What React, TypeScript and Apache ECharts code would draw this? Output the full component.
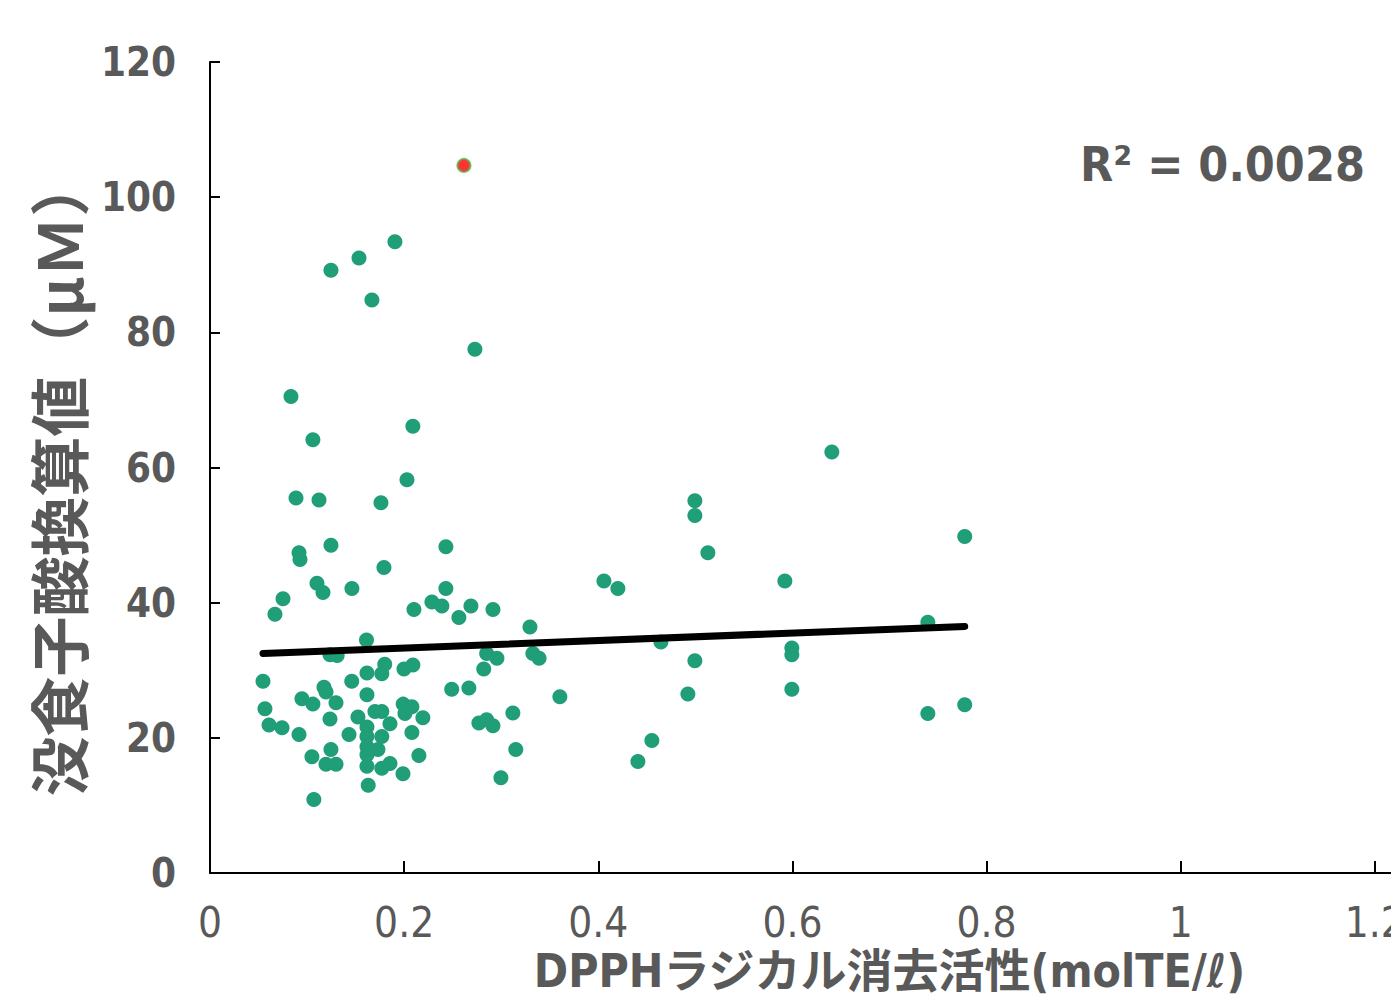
import React, { useEffect, useRef } from "react";
import * as echarts from "echarts";

const xTickLabels = ["0", "0.2", "0.4", "0.6", "0.8", "1", "1.2"];
const yTickLabels = ["0", "20", "40", "60", "80", "100", "120"];

const xTitle = "DPPHラジカル消去活性(molTE/ℓ)";
const yTitle = "没食子酸換算値（μＭ）";
const r2Label = "R² = 0.0028";

// scatter points [DPPH, gallic acid equivalent]
const points: [number, number][] = [
  [0.1905, 93.4], [0.1535, 91.0], [0.1246, 89.2], [0.1668, 84.8], [0.2729, 77.5],
  [0.0834, 70.5], [0.209, 66.1], [0.106, 64.1], [0.6406, 62.3], [0.2029, 58.2],
  [0.0886, 55.5], [0.1123, 55.2], [0.1761, 54.8], [0.4995, 55.1], [0.4995, 52.9],
  [0.7775, 49.8], [0.1246, 48.5], [0.243, 48.3], [0.0917, 47.4], [0.5129, 47.4],
  [0.0927, 46.4], [0.1792, 45.2], [0.4058, 43.2], [0.5922, 43.2], [0.4202, 42.1],
  [0.1102, 42.9], [0.1164, 41.5], [0.1462, 42.1], [0.243, 42.1], [0.0752, 40.6],
  [0.2286, 40.1], [0.2389, 39.5], [0.2688, 39.5], [0.2101, 39.0], [0.2915, 39.0],
  [0.0669, 38.3], [0.2564, 37.8], [0.3296, 36.4], [0.7395, 37.1],
  [0.1612, 34.5], [0.1236, 32.3], [0.131, 32.2], [0.1617, 29.6], [0.18, 30.9],
  [0.177, 29.5], [0.1998, 30.2], [0.0546, 28.4], [0.146, 28.4], [0.1174, 27.5],
  [0.1195, 26.8], [0.0947, 25.8], [0.106, 25.0], [0.1298, 25.2], [0.1617, 26.4],
  [0.199, 25.0], [0.0566, 24.3], [0.1236, 22.8], [0.1524, 23.1], [0.1699, 23.9],
  [0.177, 23.9], [0.1854, 22.1], [0.0608, 21.9], [0.0742, 21.5], [0.0917, 20.5],
  [0.1432, 20.5], [0.1617, 21.6], [0.1617, 20.2], [0.177, 20.2], [0.1617, 18.7],
  [0.173, 18.3], [0.1246, 18.3], [0.105, 17.2], [0.1617, 17.5], [0.1195, 16.1],
  [0.1298, 16.1], [0.1617, 15.8], [0.177, 15.5], [0.1854, 16.2], [0.1988, 14.7],
  [0.163, 13.0], [0.107, 10.9],
  [0.285, 32.5], [0.2956, 31.8], [0.3326, 32.5], [0.339, 31.8], [0.282, 30.2],
  [0.209, 30.8], [0.249, 27.2], [0.2667, 27.4], [0.3604, 26.1], [0.208, 24.6],
  [0.2008, 23.6], [0.2193, 23.0], [0.208, 20.8], [0.2152, 17.4], [0.277, 22.2],
  [0.285, 22.7], [0.2915, 21.8], [0.312, 23.7], [0.315, 18.3], [0.2997, 14.1],
  [0.4645, 34.2], [0.4995, 31.4], [0.5994, 33.3], [0.5994, 32.3], [0.4923, 26.5],
  [0.5994, 27.2], [0.7395, 23.6], [0.7775, 24.9], [0.4552, 19.6], [0.4408, 16.5],
];

const highlighted: [number, number][] = [[0.2616, 104.7]];

// linear trend line endpoints
const trendX = [0.0546, 0.7775];
const trendY = [32.5, 36.5];

const textColor = "#595959";
const narrow = "'DejaVu Sans Condensed', 'Liberation Sans Narrow', 'Noto Sans CJK JP', sans-serif";

const CHART_W = 1600;
const CHART_H = 999;

export default function App() {
  const ref = useRef<HTMLDivElement>(null);
  useEffect(() => {
    if (!ref.current) return;
    const chart = echarts.init(ref.current, null, { renderer: "svg" });
    chart.setOption({
      animation: false,
      backgroundColor: "#ffffff",
      grid: { left: 210, top: 62, bottom: 123, right: CHART_W - 1569, containLabel: false },
      xAxis: {
        type: "value",
        min: 0,
        max: 1.4,
        interval: 0.2,
        name: xTitle,
        nameLocation: "middle",
        nameGap: 64,
        nameTextStyle: { color: textColor, fontSize: 46, fontWeight: "bold", fontFamily: narrow },
        axisLine: { show: true, lineStyle: { color: "#000", width: 2 } },
        axisTick: { show: true, inside: true, length: 12, lineStyle: { color: "#000", width: 2 } },
        splitLine: { show: false },
        axisLabel: {
          color: textColor,
          fontSize: 42,
          fontFamily: narrow,
          margin: 28,
          formatter: (v: number) => xTickLabels[Math.round(v / 0.2)] ?? "",
        },
      },
      yAxis: {
        type: "value",
        min: 0,
        max: 120,
        interval: 20,
        name: yTitle,
        nameLocation: "middle",
        nameGap: 124,
        nameRotate: 90,
        nameTextStyle: {
          color: textColor, fontSize: 60, fontWeight: "bold",
          fontFamily: "'Noto Sans CJK JP', sans-serif", padding: [0, 18, 0, 0],
        },
        axisLine: { show: true, lineStyle: { color: "#000", width: 2 } },
        axisTick: { show: true, inside: true, length: 10, lineStyle: { color: "#000", width: 2 } },
        splitLine: { show: false },
        axisLabel: {
          color: textColor,
          fontSize: 40,
          fontWeight: "bold",
          fontFamily: narrow,
          margin: 34,
          formatter: (v: number) => yTickLabels[Math.round(v / 20)] ?? "",
        },
      },
      graphic: [
        {
          type: "text",
          x: 1365,
          y: 164,
          style: {
            text: r2Label, fill: textColor, fontSize: 48, fontWeight: "bold", fontFamily: narrow,
            align: "right", verticalAlign: "middle",
          },
        },
      ],
      series: [
        {
          type: "scatter",
          data: points,
          symbol: "circle",
          symbolSize: 15,
          itemStyle: { color: "#1f9e78", opacity: 1 },
          z: 2,
        },
        {
          type: "line",
          data: trendX.map((x, i) => [x, trendY[i]]),
          symbol: "none",
          lineStyle: { color: "#000", width: 7, cap: "round" },
          z: 3,
        },
        {
          type: "scatter",
          data: highlighted,
          symbol: "circle",
          symbolSize: 13,
          itemStyle: { color: "#ff0000", borderColor: "#5fb043", borderWidth: 2 },
          z: 4,
        },
      ],
    });
    return () => chart.dispose();
  }, []);
  return (
    <div style={{ position: "absolute", left: 0, top: 0, width: 1391, height: 999, overflow: "hidden", background: "#fff" }}>
      <div ref={ref} style={{ width: CHART_W, height: CHART_H }} />
    </div>
  );
}
